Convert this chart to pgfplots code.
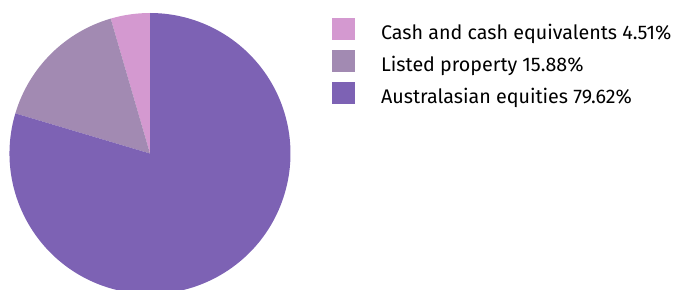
\documentclass[border=0pt]{standalone}
\usepackage{pgfplots}
\pgfplotsset{compat=1.18}
\usepackage{fontspec}
\setmainfont{Fira Sans}
\definecolor{cashc}{HTML}{D499D0}
\definecolor{propc}{HTML}{A28AB2}
\definecolor{equc}{HTML}{7D62B4}
% cumulative shares in percent: cash 4.51, listed property 15.88, equities 79.62
\newcommand\pieslice[3]{%
  \fill[#3] (axis cs:150,135.5) -- ++({90+3.6*#1}:140.5pt)
    arc[start angle={90+3.6*#1}, end angle={90+3.6*#2}, radius=140.5pt] -- cycle;}
\begin{document}
\begin{tikzpicture}
\begin{axis}[
  x=1pt, y=1pt, xmin=0, xmax=676, ymin=0, ymax=289,
  hide axis, clip=true,
  legend style={at={(axis cs:331.7,271)}, anchor=north west, draw=none, fill=none,
    inner sep=0pt, outer sep=0pt, row sep=6pt, column sep=0pt,
    font=\fontsize{19.7}{21}\selectfont,
    cells={anchor=base west},
    nodes={inner sep=0pt, text depth=5pt},
    /tikz/every odd column/.append style={column sep=27pt}},
]
\pieslice{0}{4.51}{cashc}
\pieslice{4.51}{20.39}{propc}
\pieslice{20.39}{100}{equc}
\addlegendimage{legend image code/.code={\fill[cashc] (0pt,0pt) rectangle (22pt,21pt);}}
\addlegendentry{Cash and cash equivalents 4.51\%}
\addlegendimage{legend image code/.code={\fill[propc] (0pt,0pt) rectangle (22pt,21pt);}}
\addlegendentry{Listed property 15.88\%}
\addlegendimage{legend image code/.code={\fill[equc] (0pt,0pt) rectangle (22pt,21pt);}}
\addlegendentry{Australasian equities 79.62\%}
\end{axis}
\pgfresetboundingbox
\path[use as bounding box] (0,0) rectangle (676pt,289pt);
\end{tikzpicture}
\end{document}
